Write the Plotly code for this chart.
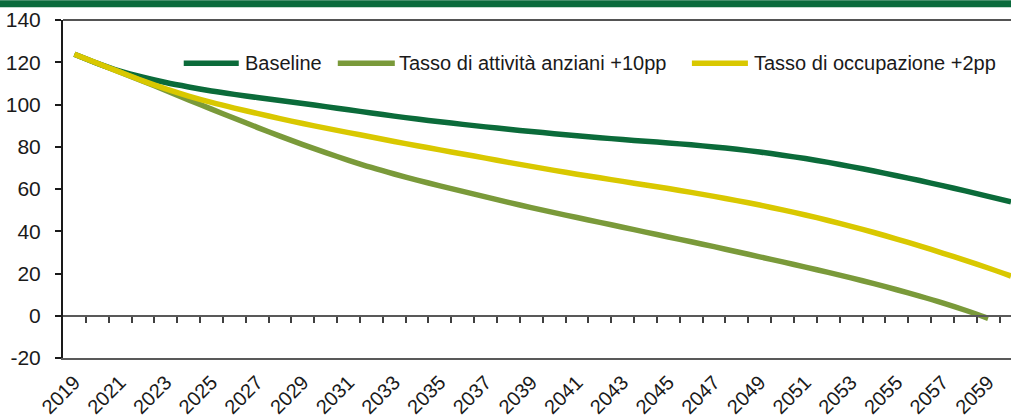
import plotly.graph_objects as go

# --- data -------------------------------------------------------------
years = list(range(2019, 2061))

baseline = [
    123.8, 119.5, 115.8, 112.9, 110.4, 108.3, 106.4, 104.8, 103.3, 101.9,
    100.5, 99.0, 97.5, 96.0, 94.5, 93.1, 91.8, 90.6, 89.4, 88.3,
    87.2, 86.2, 85.2, 84.3, 83.4, 82.6, 81.8, 80.9, 79.9, 78.8,
    77.5, 76.0, 74.4, 72.6, 70.6, 68.5, 66.3, 64.0, 61.6, 59.1,
    56.5, 53.9,
]

attivita_anziani = [
    123.8, 119.5, 115.3, 111.0, 106.7, 102.2, 97.8, 93.5, 89.2, 85.0,
    81.0, 77.2, 73.6, 70.2, 67.1, 64.2, 61.5, 58.9, 56.3, 53.7,
    51.2, 48.8, 46.5, 44.2, 41.9, 39.6, 37.3, 35.0, 32.7, 30.3,
    27.9, 25.5, 23.0, 20.5, 17.9, 15.2, 12.3, 9.3, 6.1, 2.6,
    -1.2, None,
]

occupazione = [
    123.8, 119.5, 115.3, 111.2, 107.4, 104.0, 101.0, 98.3, 95.8, 93.3,
    91.0, 88.8, 86.7, 84.6, 82.5, 80.5, 78.5, 76.6, 74.6, 72.6,
    70.7, 68.8, 67.0, 65.3, 63.6, 61.9, 60.2, 58.4, 56.5, 54.5,
    52.4, 50.1, 47.7, 45.1, 42.3, 39.4, 36.3, 33.1, 29.7, 26.2,
    22.6, 18.8,
]

series_names = [
    "Baseline",
    "Tasso di attività anziani +10pp",
    "Tasso di occupazione +2pp",
]
series_values = [baseline, attivita_anziani, occupazione]
series_colors = ["#0b6b3a", "#7a9a3a", "#d9c800"]

label_years = years[:-1:2]
y_ticks = list(range(-20, 141, 20))

# --- layout geometry (pixels) ----------------------------------------
W, H = 1011, 419
M_L, M_R, M_T, M_B = 63.3, 0, 19.7, 61
PLOT_W = W - M_L - M_R
PLOT_H = H - M_T - M_B
FONT = "Liberation Sans, Arial, sans-serif"


def px_to_paper(px, py):
    return (px - M_L) / PLOT_W, (H - M_B - py) / PLOT_H


fig = go.Figure()

for name, vals, col in zip(series_names, series_values, series_colors):
    fig.add_trace(go.Scatter(
        x=years, y=vals, name=name, mode="lines",
        line=dict(color=col, width=5.5, shape="spline", smoothing=0.8),
        showlegend=False, xaxis="x", yaxis="y",
    ))

# zero-crossing category axis carrying the tick marks between years
fig.add_trace(go.Scatter(x=[years[0]], y=[None], xaxis="x2", yaxis="y",
                         showlegend=False, hoverinfo="skip"))

x_range = [years[0] - 0.5, years[-1]]

fig.update_layout(
    width=W, height=H,
    margin=dict(l=M_L, r=M_R, t=M_T, b=M_B, pad=0),
    paper_bgcolor="white", plot_bgcolor="white",
    font=dict(family=FONT, size=20, color="#1a1a1a"),
    xaxis=dict(
        range=x_range, tickmode="array", tickvals=label_years,
        ticktext=[str(y) for y in label_years], tickangle=-45,
        showgrid=False, zeroline=False, showline=True,
        linecolor="#595959", linewidth=1.5, mirror=False,
        ticks="", ticklabelstandoff=3, automargin=False,
        tickfont=dict(family=FONT, size=20, color="#1a1a1a"),
    ),
    xaxis2=dict(
        range=x_range, overlaying="x", anchor="free",
        position=(0 - y_ticks[0]) / (y_ticks[-1] - y_ticks[0]),
        side="bottom", tickmode="array",
        tickvals=[y + 0.5 for y in years[:-1]],
        showticklabels=False, ticks="outside", ticklen=6, tickwidth=1.5,
        tickcolor="#404040", showline=True, linecolor="#595959",
        linewidth=1.5, showgrid=False, zeroline=False, automargin=False,
    ),
    yaxis=dict(
        range=[y_ticks[0], y_ticks[-1]], tickmode="array", tickvals=y_ticks,
        ticktext=[str(v) for v in y_ticks],
        showgrid=False, zeroline=False, showline=True, linecolor="#1a1a1a",
        linewidth=2, ticks="outside", ticklen=6, tickwidth=1.5,
        tickcolor="#1a1a1a", ticklabelstandoff=10, automargin=False,
        tickfont=dict(family=FONT, size=21, color="#1a1a1a"),
    ),
)

shapes = []
annotations = []

# top frame line of the plot area
shapes.append(dict(type="line", xref="paper", yref="paper",
                   x0=0, x1=1, y0=1, y1=1,
                   line=dict(color="#1a1a1a", width=1.5)))

# green band across the top of the page
bx0, by0 = px_to_paper(0, 0)
bx1, by1 = px_to_paper(W, 7)
shapes.append(dict(type="rect", xref="paper", yref="paper",
                   x0=bx0, x1=bx1, y0=by1, y1=by0,
                   fillcolor="#0b6b3d", line=dict(width=0), layer="above"))

# legend: line sample followed by the series name
legend_items = [(184, 239, 243), (338, 395, 397), (692, 748, 752)]
legend_y = 63
for (lx0, lx1, tx), name, col in zip(legend_items, series_names, series_colors):
    x0, yy = px_to_paper(lx0, legend_y)
    x1, _ = px_to_paper(lx1, legend_y)
    shapes.append(dict(type="line", xref="paper", yref="paper",
                       x0=x0, x1=x1, y0=yy, y1=yy,
                       line=dict(color=col, width=5.5)))
    ax, _ = px_to_paper(tx, legend_y)
    annotations.append(dict(xref="paper", yref="paper", x=ax, y=yy,
                            text=name, showarrow=False, xanchor="left",
                            yanchor="middle",
                            font=dict(family=FONT, size=20, color="#1a1a1a")))

fig.update_layout(shapes=shapes, annotations=annotations)

fig.write_html("out.html")
